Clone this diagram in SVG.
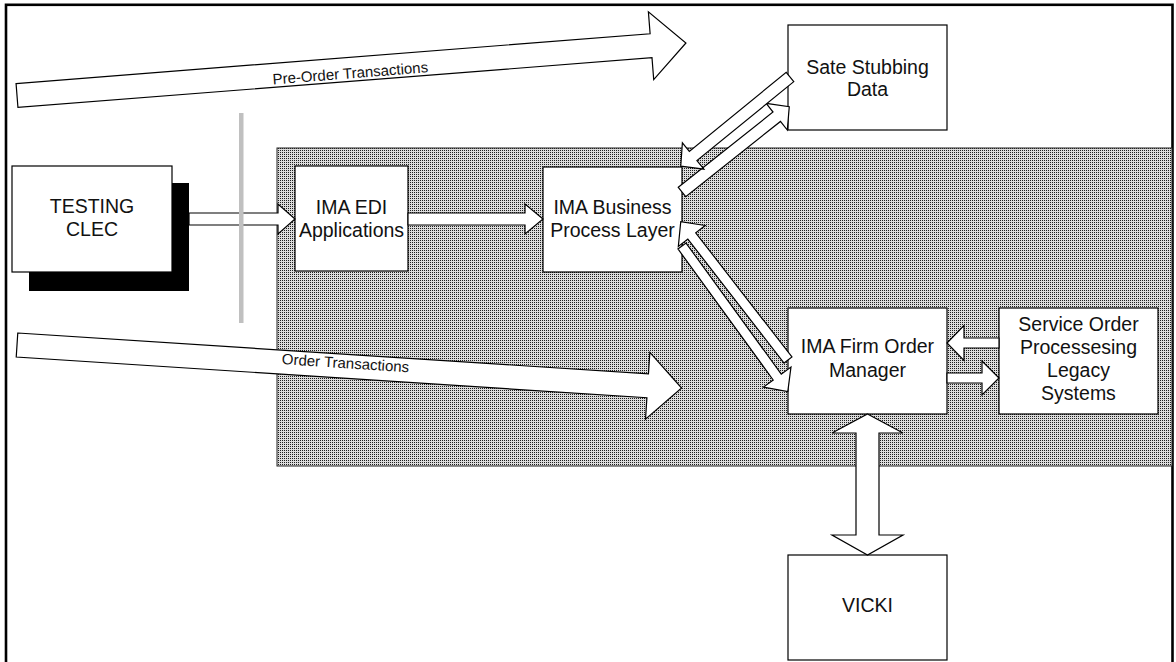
<svg xmlns="http://www.w3.org/2000/svg" width="1176" height="662" viewBox="0 0 1176 662">
<defs>
<pattern id="dots" patternUnits="userSpaceOnUse" width="2" height="2">
<rect width="2" height="2" fill="#dcdcdc"/>
<rect width="1" height="1" fill="#1e1e1e"/>
</pattern>
<style>
.box{fill:#fff;stroke:#000;stroke-width:1.2}
.arr{fill:#fff;stroke:#000;stroke-width:1.2;stroke-linejoin:miter}
.lbl{font-family:"Liberation Sans",Arial,sans-serif;font-size:19.5px;fill:#111;text-anchor:middle}
.alb{font-family:"Liberation Sans",Arial,sans-serif;font-size:15px;fill:#111;text-anchor:middle}
</style>
</defs>
<rect x="0" y="0" width="1176" height="662" fill="#fff"/>
<rect x="6" y="4.8" width="1166.5" height="680" fill="none" stroke="#000" stroke-width="2.6"/>
<rect id="shaded-area" x="277" y="148" width="895" height="318" fill="url(#dots)" stroke="#222" stroke-width="1"/>

<g id="testing-clec">
<rect x="29" y="183" width="160" height="108" fill="#000"/>
<rect class="box" x="12" y="166" width="160" height="106"/>
<text class="lbl" x="92" y="213">TESTING</text>
<text class="lbl" x="92" y="236">CLEC</text>
</g>
<g id="ima-edi">
<rect class="box" x="295" y="166" width="113" height="105"/>
<text class="lbl" x="351.5" y="214">IMA EDI</text>
<text class="lbl" x="351.5" y="237">Applications</text>
</g>
<g id="ima-business">
<rect class="box" x="543" y="167" width="139" height="105"/>
<text class="lbl" x="612.5" y="214">IMA Business</text>
<text class="lbl" x="612.5" y="237">Process Layer</text>
</g>
<g id="sate-stubbing">
<rect class="box" x="788" y="25" width="159" height="105"/>
<text class="lbl" x="867.5" y="74">Sate Stubbing</text>
<text class="lbl" x="867.5" y="96">Data</text>
</g>
<g id="ima-fom">
<rect class="box" x="788" y="308" width="159" height="106"/>
<text class="lbl" x="867.5" y="353">IMA Firm Order</text>
<text class="lbl" x="867.5" y="376.5">Manager</text>
</g>
<g id="service-order">
<rect class="box" x="999" y="308" width="159" height="106"/>
<text class="lbl" x="1078.5" y="331">Service Order</text>
<text class="lbl" x="1078.5" y="354">Processesing</text>
<text class="lbl" x="1078.5" y="377">Legacy</text>
<text class="lbl" x="1078.5" y="400">Systems</text>
</g>
<g id="vicki">
<rect class="box" x="788" y="555" width="159" height="105"/>
<text class="lbl" x="867.5" y="612">VICKI</text>
</g>

<g id="connectors">
<g transform="translate(17,95.5) rotate(-4.49)">
<polygon class="arr" points="0,-12 636,-12 636,-34 671,0 636,34 636,12 0,12"/>
<text class="alb" x="334" y="9">Pre-Order Transactions</text>
</g>
<g transform="translate(17,345) rotate(3.7)">
<polygon class="arr" points="0,-12 632,-12 632,-33.5 666,0 632,33.5 632,12 0,12"/>
<text class="alb" x="329" y="2">Order Transactions</text>
</g>
<polygon class="arr" transform="translate(189,219)" points="0,-6 89,-6 89,-15 106,0 89,15 89,6 0,6"/>
<polygon class="arr" transform="translate(408,219)" points="0,-6 117,-6 117,-15 135,0 117,15 117,6 0,6"/>
<polygon class="arr" points="999,338 964,338 964,325.5 947,343 964,360.5 964,348 999,348"/>
<polygon class="arr" points="947,373 982,373 982,361 999,378 982,395 982,383 947,383"/>
<polygon class="arr" points="867.5,414 903,433 879,433 879,535 903,535 867.5,555 832,535 856,535 856,433 832,433"/>
<polygon class="arr" transform="translate(682,192) rotate(-38.47)" points="0,-6 121,-6 121,-17 137,0 121,17 121,6 0,6"/>
<polygon class="arr" transform="translate(790,77) rotate(140.8)" points="0,-6 125,-6 125,-17 141,0 125,17 125,6 0,6"/>
<polygon class="arr" transform="translate(682,246) rotate(54)" points="0,-5 162,-5 162,-17 180,0 162,17 162,5 0,5"/>
<polygon class="arr" transform="translate(788,360) rotate(-127.8)" points="0,-5 157,-5 157,-17 175,0 157,17 157,5 0,5"/>
</g>
<rect id="divider" x="239" y="113" width="4.5" height="210" fill="#c0c0c0"/>
</svg>
